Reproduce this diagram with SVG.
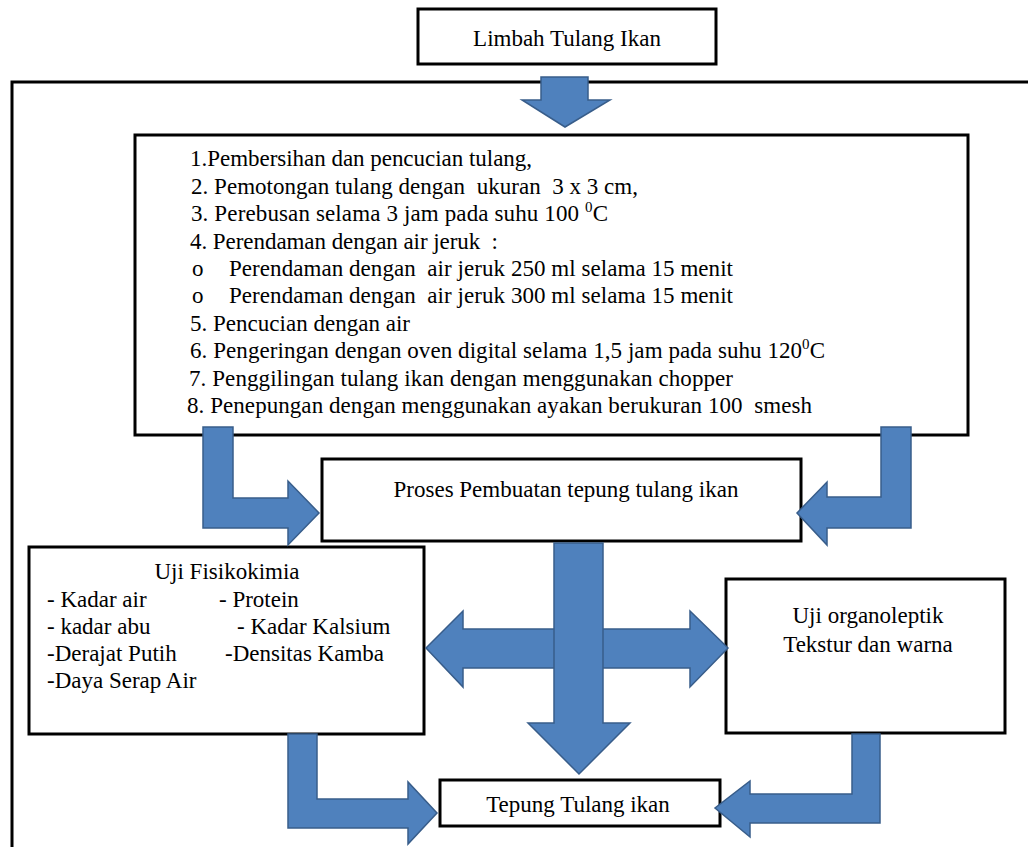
<svg xmlns="http://www.w3.org/2000/svg" width="1028" height="847" viewBox="0 0 1028 847" xml:space="preserve">
<style>
.box{fill:#fff;stroke:#000;stroke-width:3}
.frame{fill:none;stroke:#000;stroke-width:3}
.t{font-family:"Liberation Serif","Times New Roman",serif;font-size:23px;fill:#000;white-space:pre}
.c{text-anchor:middle}
.arr{fill:#4F81BD;stroke:#385D8A;stroke-width:1.5;stroke-linejoin:miter}
</style>
<rect width="1028" height="847" fill="#fff"/>
<path class="frame" d="M12,847 V82 H1030"/>
<g id="limbah">
<rect class="box" x="418" y="9" width="298" height="55"/>
<text class="t c" x="567" y="46">Limbah Tulang Ikan</text>
</g>
<g id="langkah">
<rect class="box" x="135" y="135" width="833" height="300"/>
<text class="t" x="190" y="166" textLength="342">1.Pembersihan dan pencucian tulang,</text>
<text class="t" x="191" y="194" textLength="447">2. Pemotongan tulang dengan  ukuran  3 x 3 cm,</text>
<text class="t" x="191" y="221" textLength="417">3. Perebusan selama 3 jam pada suhu 100 <tspan font-size="15" dy="-9">0</tspan><tspan dy="9">C</tspan></text>
<text class="t" x="190" y="249" textLength="308">4. Perendaman dengan air jeruk  :</text>
<text class="t" x="192" y="276">o</text>
<text class="t" x="229" y="276" textLength="504">Perendaman dengan  air jeruk 250 ml selama 15 menit</text>
<text class="t" x="192" y="303">o</text>
<text class="t" x="229" y="303" textLength="504">Perendaman dengan  air jeruk 300 ml selama 15 menit</text>
<text class="t" x="190" y="331" textLength="220">5. Pencucian dengan air</text>
<text class="t" x="190" y="358" textLength="635">6. Pengeringan dengan oven digital selama 1,5 jam pada suhu 120<tspan font-size="15" dy="-9">0</tspan><tspan dy="9">C</tspan></text>
<text class="t" x="189" y="386" textLength="544">7. Penggilingan tulang ikan dengan menggunakan chopper</text>
<text class="t" x="187" y="413" textLength="625">8. Penepungan dengan menggunakan ayakan berukuran 100  smesh</text>
</g>
<g id="proses">
<rect class="box" x="322" y="459" width="479" height="82"/>
<text class="t c" x="566" y="497">Proses Pembuatan tepung tulang ikan</text>
</g>
<g id="fisikokimia">
<rect class="box" x="29" y="547" width="395" height="187"/>
<text class="t c" x="227" y="579">Uji Fisikokimia</text>
<text class="t" x="47" y="607">- Kadar air</text>
<text class="t" x="219" y="607">- Protein</text>
<text class="t" x="47" y="634">- kadar abu</text>
<text class="t" x="237" y="634">- Kadar Kalsium</text>
<text class="t" x="47" y="661">-Derajat Putih</text>
<text class="t" x="225" y="661">-Densitas Kamba</text>
<text class="t" x="47" y="688">-Daya Serap Air</text>
</g>
<g id="organoleptik">
<rect class="box" x="726" y="579" width="279" height="154"/>
<text class="t c" x="868" y="623">Uji organoleptik</text>
<text class="t c" x="868" y="652">Tekstur dan warna</text>
</g>
<g id="tepung">
<rect class="box" x="440" y="780" width="280" height="46"/>
<text class="t c" x="578" y="812">Tepung Tulang ikan</text>
</g>
<g id="connectors">
<path class="arr" d="M541,77 H588 V100 H610 L565,127 L522,100 H541 Z"/>
<path class="arr" d="M203,427 H233 V498 H288 V481 L319,513 L288,545 V528 H203 Z"/>
<path class="arr" d="M911,427 H881 V497 H827 V482 L797,513 L827,545 V528 H911 Z"/>
<path class="arr" d="M426,648 L463,611 V629 H690 V611 L728,648 L690,687 V668 H463 V687 Z"/>
<path class="arr" d="M554,543 H603 V723 H630 L579,774 L528,723 H554 Z"/>
<path class="arr" d="M288,734 H317 V799 H408 V782 L437,813 L408,844 V828 H288 Z"/>
<path class="arr" d="M880,734 H852 V794 H750 V781 L715,808 L750,837 V823 H880 Z"/>
</g>
</svg>
